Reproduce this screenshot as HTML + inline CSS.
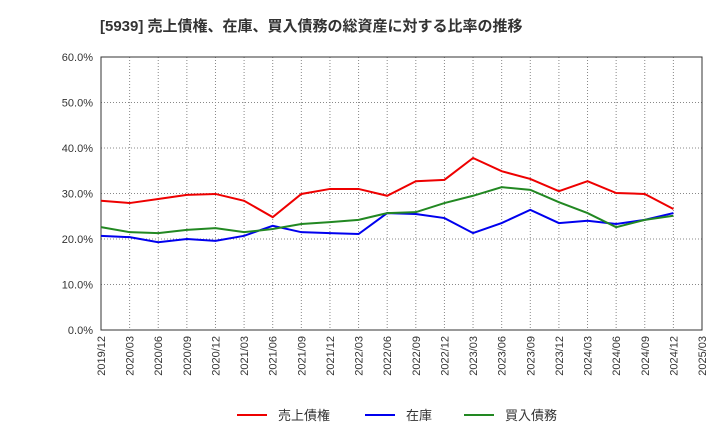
<!DOCTYPE html>
<html><head><meta charset="utf-8"><style>
body{margin:0;background:#fff;font-family:"Liberation Sans","Noto Sans CJK JP",sans-serif;}
</style></head><body>
<svg id="chart" width="720" height="440" xmlns="http://www.w3.org/2000/svg">
<text x="100" y="31" font-size="15" font-weight="bold" fill="#333" font-family="Liberation Sans, Noto Sans CJK JP, sans-serif">[5939]  売上債権、在庫、買入債務の総資産に対する比率の推移</text>
<g id="grid"></g><g id="axes"></g><g id="series"></g><g id="legend"></g>
</svg>
<script>
const categories=["2019/12","2020/03","2020/06","2020/09","2020/12","2021/03","2021/06","2021/09","2021/12","2022/03","2022/06","2022/09","2022/12","2023/03","2023/06","2023/09","2023/12","2024/03","2024/06","2024/09","2024/12","2025/03"];
const receivables=[28.4,27.9,28.8,29.7,29.9,28.4,24.8,29.9,31.0,31.0,29.5,32.7,33.0,37.8,34.9,33.2,30.5,32.7,30.1,29.9,26.6];
const inventory=[20.7,20.4,19.3,20.0,19.6,20.7,22.9,21.5,21.3,21.1,25.7,25.5,24.6,21.3,23.5,26.4,23.5,24.0,23.3,24.2,25.7];
const payables=[22.6,21.5,21.3,22.0,22.4,21.5,22.2,23.3,23.7,24.2,25.7,25.9,27.9,29.5,31.4,30.8,28.1,25.7,22.6,24.2,25.1];
const yTicks=[0,10,20,30,40,50,60];
const seriesNames=["売上債権","在庫","買入債務"];
const NS="http://www.w3.org/2000/svg";
const L=101,R=702,T=57,B=330;
function xs(i){return L+(R-L)*i/(categories.length-1);}
function ys(v){return B-(B-T)*v/60;}
function mk(tag,attrs,parent){const e=document.createElementNS(NS,tag);for(const k in attrs)e.setAttribute(k,attrs[k]);document.getElementById(parent).appendChild(e);return e;}
categories.forEach((c,i)=>{
 const g=mk('line',{x1:xs(i),x2:xs(i),y1:T,y2:B,stroke:'#888','stroke-dasharray':'1,2','stroke-width':1},'grid');
 
 
 const t=mk('text',{x:0,y:0,'font-size':11,fill:'#333','text-anchor':'end',transform:`translate(${xs(i)+4},${B+6}) rotate(-90)`},'axes');
 t.textContent=c;
 
 
});
yTicks.forEach(v=>{
 const g=mk('line',{x1:L,x2:R,y1:ys(v),y2:ys(v),stroke:'#888','stroke-dasharray':'1,2','stroke-width':1},'grid');
 
 
 const t=mk('text',{x:L-8,y:ys(v)+4,'font-size':11,fill:'#333','text-anchor':'end'},'axes');
 t.textContent=v.toFixed(1)+'%';
 
 
});
const frame=mk('rect',{x:L,y:T,width:R-L,height:B-T,fill:'none',stroke:'#333','stroke-width':1},'axes');


const all=[receivables,inventory,payables],cols=['#ee0000','#0000ee','#228822'],nm=['receivables-line','inventory-line','payables-line'];
all.forEach((d,k)=>{
 const p=mk('polyline',{points:d.map((v,i)=>xs(i)+','+ys(v)).join(' '),fill:'none',stroke:cols[k],'stroke-width':2},'series');
 
 
});
const lx=[237,365,464];
seriesNames.forEach((n,k)=>{
 const l=mk('line',{x1:lx[k],x2:lx[k]+30,y1:415,y2:415,stroke:cols[k],'stroke-width':2},'legend');
 
 
 const t=mk('text',{x:lx[k]+41,y:420,'font-size':13,fill:'#333'},'legend');
 t.textContent=n;
 
 
});
</script>
</body></html>
